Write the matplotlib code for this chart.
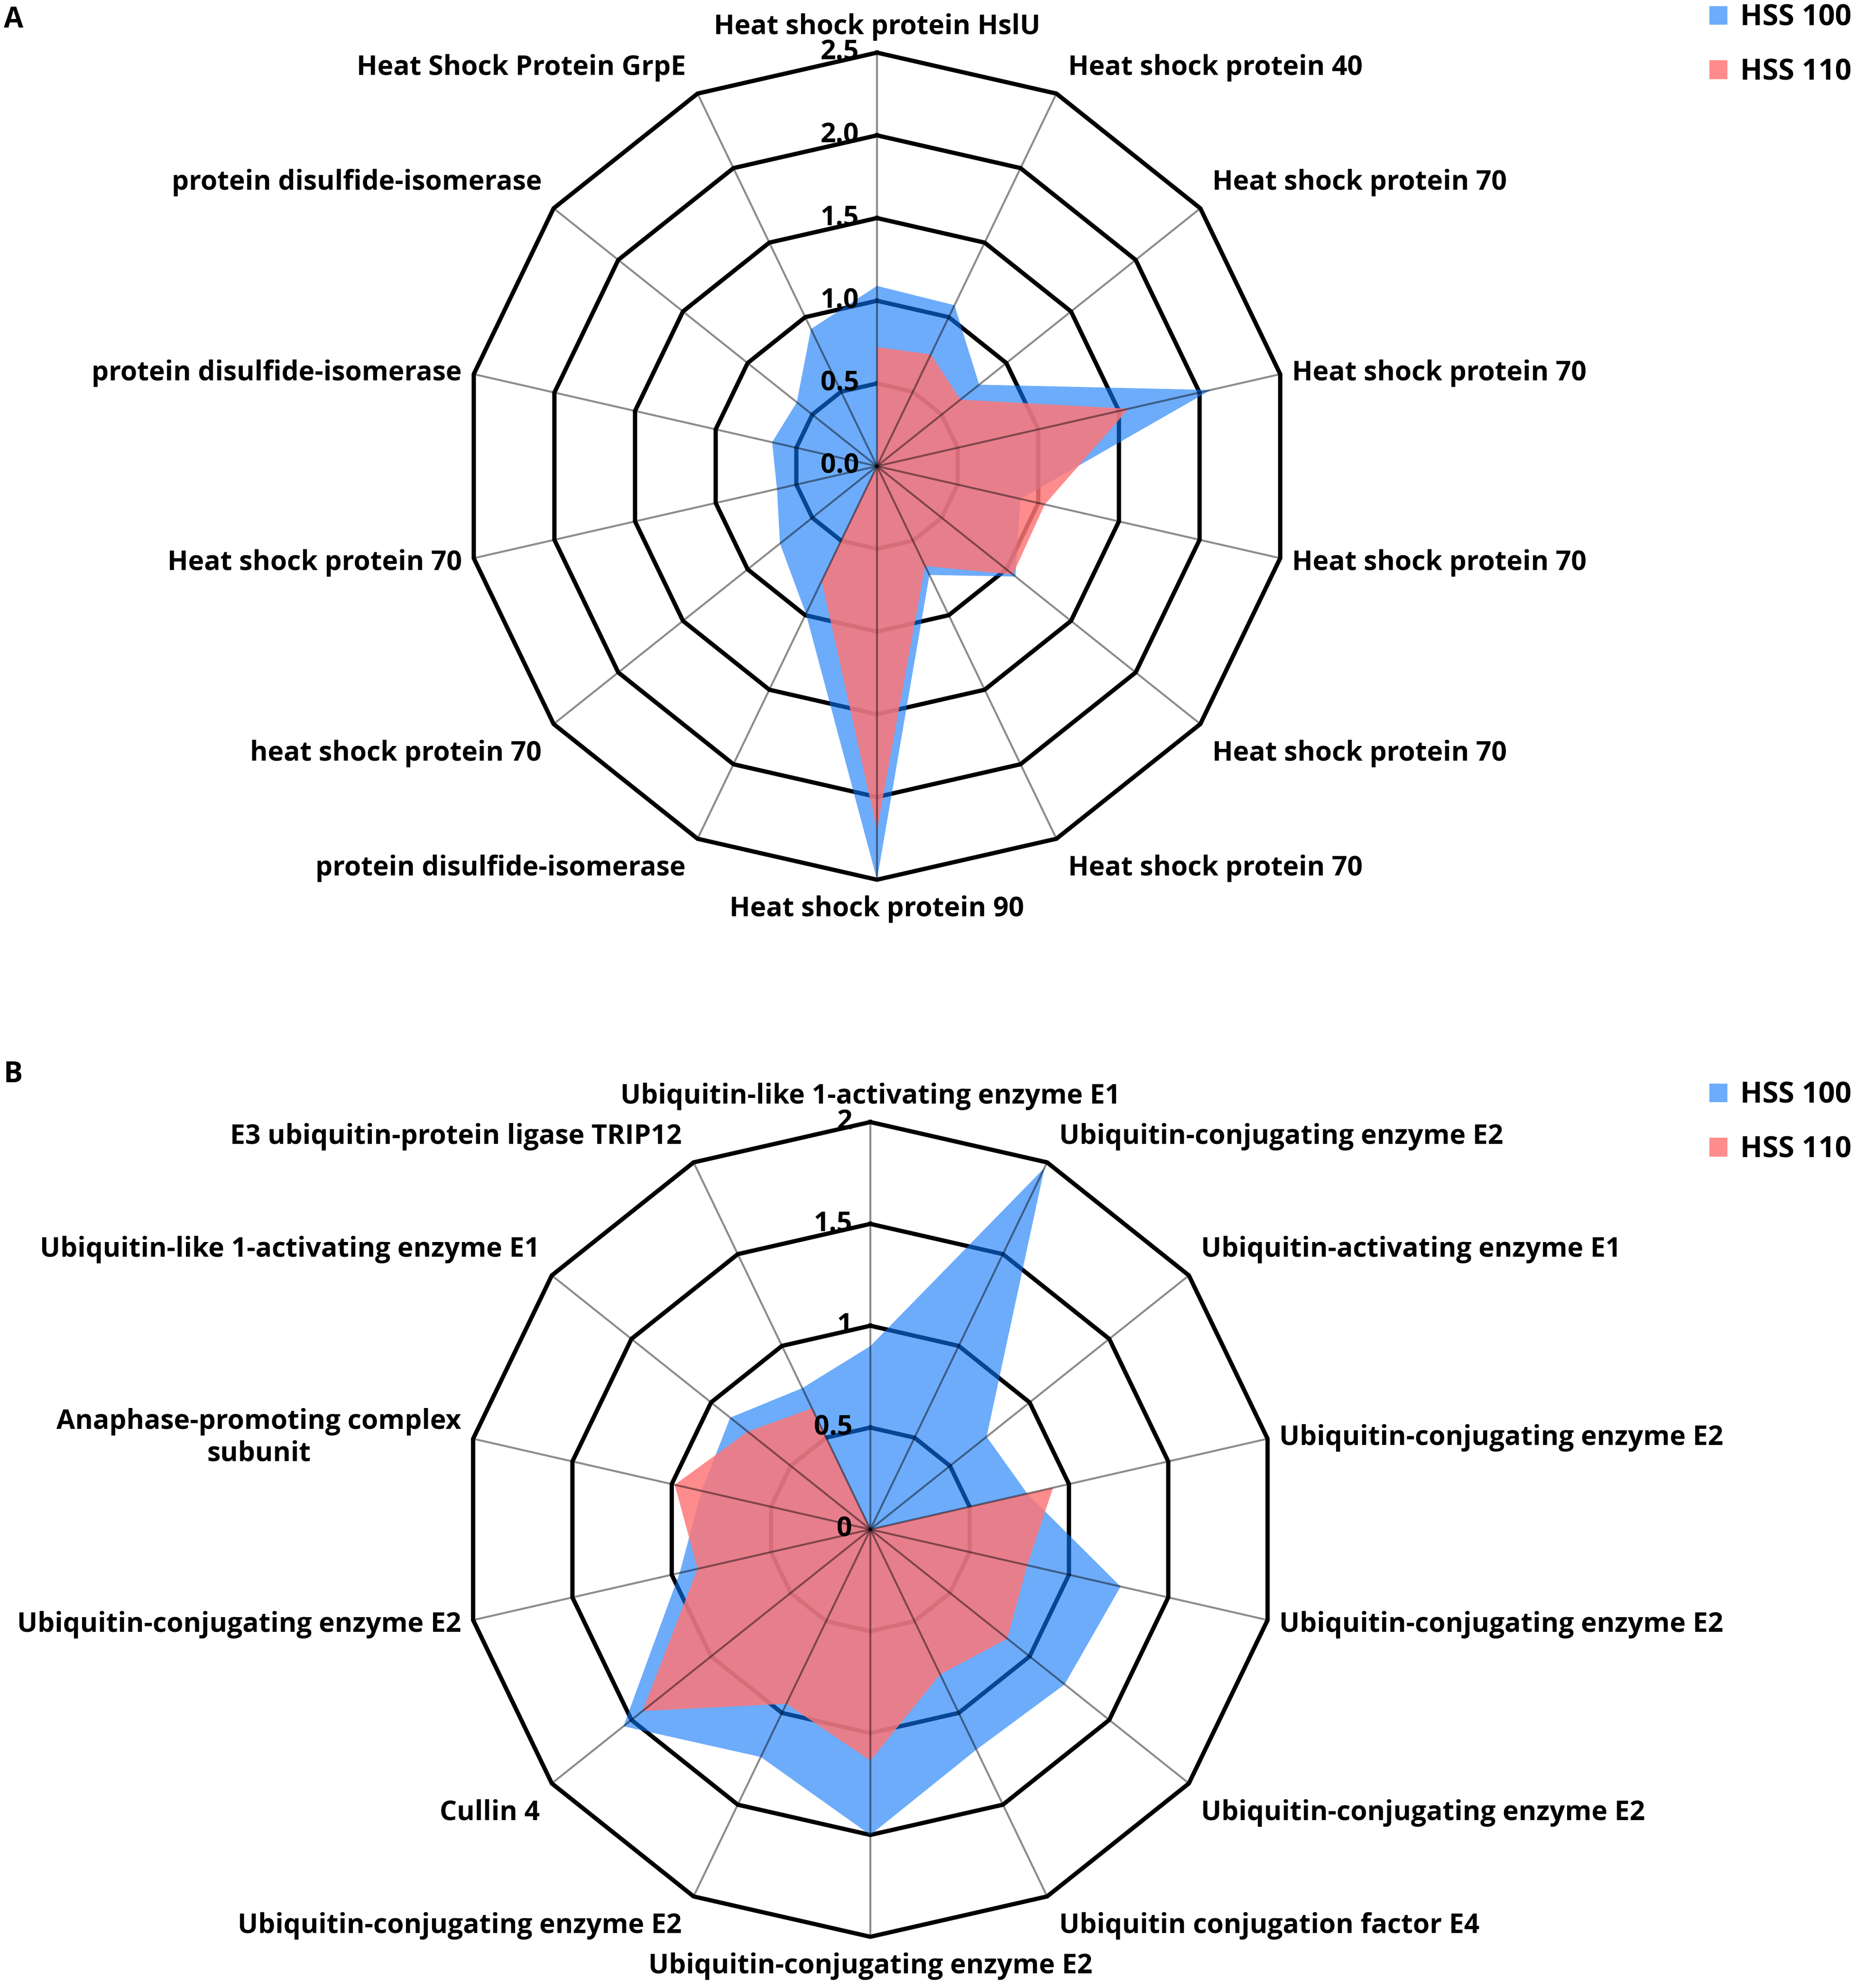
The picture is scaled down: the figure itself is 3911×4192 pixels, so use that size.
import numpy as np
import matplotlib
matplotlib.use("Agg")
import matplotlib.pyplot as plt

plt.rcParams['font.family'] = ['Open Sans', 'DejaVu Sans']
plt.rcParams['font.weight'] = 'bold'

# Panel A: chaperones
labels_a = ["Heat shock protein HslU", "Heat shock protein 40", "Heat shock protein 70",
            "Heat shock protein 70", "Heat shock protein 70", "Heat shock protein 70",
            "Heat shock protein 70", "Heat shock protein 90", "protein disulfide-isomerase",
            "heat shock protein 70", "Heat shock protein 70", "protein disulfide-isomerase",
            "protein disulfide-isomerase", "Heat Shock Protein GrpE"]
hss100_a = [1.09, 1.08, 0.79, 2.07, 0.89, 1.07, 0.73, 2.50, 0.99, 0.75, 0.62, 0.65, 0.62, 0.92]
hss110_a = [0.72, 0.75, 0.645, 1.56, 1.04, 1.05, 0.67, 2.20, 0.77, 0.0, 0.0, 0.0, 0.0, 0.0]
ticks_a = [0.0, 0.5, 1.0, 1.5, 2.0, 2.5]
ticklabels_a = ["0.0", "0.5", "1.0", "1.5", "2.0", "2.5"]

# Panel B: ubiquitin pathway
labels_b = ["Ubiquitin-like 1-activating enzyme E1", "Ubiquitin-conjugating enzyme E2",
            "Ubiquitin-activating enzyme E1", "Ubiquitin-conjugating enzyme E2",
            "Ubiquitin-conjugating enzyme E2", "Ubiquitin-conjugating enzyme E2",
            "Ubiquitin conjugation factor E4", "Ubiquitin-conjugating enzyme E2",
            "Ubiquitin-conjugating enzyme E2", "Cullin 4", "Ubiquitin-conjugating enzyme E2",
            "Anaphase-promoting complex\nsubunit", "Ubiquitin-like 1-activating enzyme E1",
            "E3 ubiquitin-protein ligase TRIP12"]
hss100_b = [0.90, 1.97, 0.73, 0.79, 1.26, 1.22, 1.20, 1.50, 1.24, 1.55, 0.96, 0.85, 0.88, 0.77]
hss110_b = [0.0, 0.0, 0.0, 0.92, 0.79, 0.86, 0.79, 1.135, 0.95, 1.43, 0.87, 0.985, 0.77, 0.66]
ticks_b = [0, 0.5, 1, 1.5, 2]
ticklabels_b = ["0", "0.5", "1", "1.5", "2"]

series_names = ["HSS 100", "HSS 110"]

W, H = 3912, 4192
FS = 41
fig = plt.figure(figsize=(W / 100, H / 100), dpi=100)


def radar(center, radius, labels, v100, v110, ticks, ticklabels, legend_y):
    cx, cy = center
    rect = [(cx - radius) / W, (H - cy - radius) / H, 2 * radius / W, 2 * radius / H]
    ax = fig.add_axes(rect, projection='polar')
    ax.set_theta_zero_location('N')
    ax.set_theta_direction(-1)
    rmax = ticks[-1]
    ax.set_ylim(0, rmax)
    ax.axis('off')

    n = len(labels)
    theta = np.arange(n) * 2 * np.pi / n
    closed = np.append(theta, theta[0])

    # polygon rings
    for t in ticks[1:]:
        ax.plot(closed, np.full(n + 1, t), color='black', lw=6.5, zorder=1,
                clip_on=False, solid_joinstyle='miter')

    f1 = ax.fill(closed, np.append(v100, v100[0]), color='#0C75F7', alpha=0.6,
                 lw=0, zorder=2, clip_on=False, label=series_names[0])
    f2 = ax.fill(closed, np.append(v110, v110[0]), color='#FF7676', alpha=0.84,
                 lw=0, zorder=3, clip_on=False, label=series_names[1])

    # spokes
    for th in theta:
        ax.plot([th, th], [0, rmax], color='black', alpha=0.45, lw=3, zorder=4,
                clip_on=False)

    # category labels
    for th, lab in zip(theta, labels):
        a = np.pi / 2 - th
        c, s = np.cos(a), np.sin(a)
        if abs(c) < 0.1:
            ha, dx, dy = 'center', 0, 62 * np.sign(s)
        else:
            ha = 'left' if c > 0 else 'right'
            dx = 25 * np.sign(c)
            dy = 62 * np.clip((abs(s) - 0.15) / 0.45, 0, 1) * np.sign(s)
        if s > 0:
            dy -= 8
        ax.annotate(lab, xy=(th, rmax), xytext=(dx, dy), textcoords='offset pixels',
                    ha=ha, va='center', fontsize=FS, fontweight='bold',
                    multialignment='center', annotation_clip=False, zorder=6)

    # radial tick labels
    for t, tl in zip(ticks, ticklabels):
        ax.annotate(tl, xy=(0, t), xytext=(-38, 0), textcoords='offset pixels',
                    ha='right', va='center', fontsize=FS, fontweight='bold',
                    annotation_clip=False, zorder=6)

    ax.legend(handles=[f1[0], f2[0]], loc='upper right',
              bbox_to_anchor=(3904 / W, 1 - legend_y / H), bbox_transform=fig.transFigure,
              frameon=False, prop={'size': FS + 3, 'weight': 'bold'},
              handlelength=0.62, handleheight=0.62,
              handletextpad=0.45, labelspacing=0.88, borderpad=0, borderaxespad=0)
    return ax


radar((1849, 983), 872, labels_a, hss100_a, hss110_a, ticks_a, ticklabels_a, 8)
radar((1835, 3225), 859, labels_b, hss100_b, hss110_b, ticks_b, ticklabels_b, 2280)

fig.text(8 / W, 1 - 43 / H, "A", fontsize=FS + 2, fontweight='bold', va='center', ha='left')
fig.text(8 / W, 1 - 2266 / H, "B", fontsize=FS + 2, fontweight='bold', va='center', ha='left')

fig.savefig("out.png", dpi=100, facecolor='white')
